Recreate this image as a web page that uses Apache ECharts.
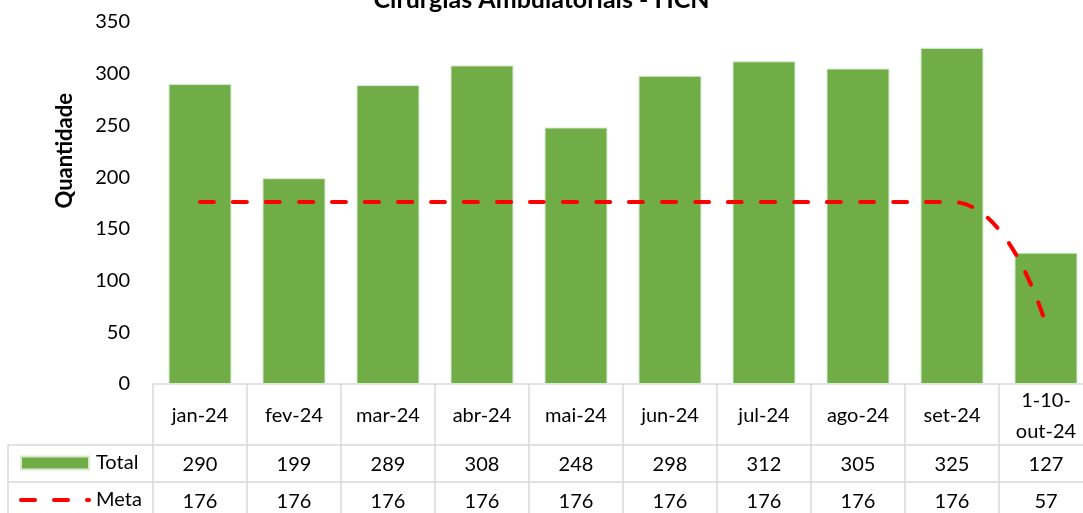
<!DOCTYPE html>
<html><head><meta charset="utf-8">
<script src="https://cdn.jsdelivr.net/npm/echarts@6/dist/echarts.min.js"></script>
<style>html,body{margin:0;padding:0;background:#fff}#c{width:1083px;height:513px}</style>
</head><body><div id="c"></div>
<script>
const chartTitle = 'Cirurgias Ambulatoriais - HCN';
const yAxisTitle = 'Quantidade';
const categories = ['jan-24','fev-24','mar-24','abr-24','mai-24','jun-24','jul-24','ago-24','set-24','1-10-\nout-24'];
const totalValues = [290,199,289,308,248,298,312,305,325,127];
const metaValues = [176,176,176,176,176,176,176,176,176,57];
const yMin = 0, yMax = 350, yStep = 50;

const FONT = 'Lato';
const GRID = {left:153, top:22, width:940, height:362};
const GRID_BOTTOM = GRID.top + GRID.height;
const ROW1 = GRID_BOTTOM + 61, ROW2 = ROW1 + 37;
const LINE_C = '#d9d9d9';
const META_DASH = [14,19];

const chart = echarts.init(document.getElementById('c'), null, {renderer:'canvas'});
chart.setOption({
  backgroundColor:'#fff',
  animation:false,
  textStyle:{fontFamily:FONT, color:'#000'},
  title:{text:chartTitle, left:'center', top:-13, padding:0,
    textStyle:{fontFamily:FONT, fontWeight:'bold', fontSize:25, color:'#000'}},
  grid:Object.assign({outerBoundsMode:'none', containLabel:false}, GRID),
  legend:{orient:'vertical', left:19, top:ROW1+8, padding:0, itemGap:17,
    itemWidth:68, itemHeight:13,
    textStyle:{fontFamily:FONT, fontSize:20, color:'#000', lineHeight:20, padding:[0,0,0,2]},
    data:[{name:'Total', icon:'rect'},
      {name:'Meta', itemStyle:{opacity:0, color:'rgba(0,0,0,0)', borderWidth:0},
        lineStyle:{color:'#ff0000', width:4, type:META_DASH, cap:'round'}}]},
  xAxis:{type:'category', data:categories, boundaryGap:true,
    axisLine:{show:true, lineStyle:{color:LINE_C, width:1.5}},
    axisTick:{show:true, alignWithLabel:false, length:135, lineStyle:{color:LINE_C, width:1.5}},
    axisLabel:{interval:0, margin:1, color:'#000',
      formatter:(v, i) => {
        const parts = v.split('\n');
        const head = parts.length > 1 ? ('{h2a|' + parts[0] + '}\n{h2b|' + parts[1] + '}') : '{h|' + v + '}';
        return head + '\n{v|' + totalValues[i] + '}\n{v|' + metaValues[i] + '}';
      },
      rich:{
        h:{fontFamily:FONT, fontSize:20, lineHeight:61, color:'#000', align:'center'},
        h2a:{fontFamily:FONT, fontSize:20, lineHeight:32, color:'#000', align:'center'},
        h2b:{fontFamily:FONT, fontSize:20, lineHeight:29, color:'#000', align:'center'},
        v:{fontFamily:FONT, fontSize:20, lineHeight:37, color:'#000', align:'center'}
      }}},
  yAxis:{type:'value', min:yMin, max:yMax, interval:yStep,
    axisLine:{show:false}, axisTick:{show:false}, splitLine:{show:false},
    axisLabel:{fontFamily:FONT, fontSize:20, color:'#000', margin:23}},
  series:[
    {name:'Total', type:'bar', data:totalValues, barCategoryGap:'33%',
      itemStyle:{color:'#70ad47', borderColor:'#d9ead0', borderWidth:1}},
    {name:'Meta', type:'line', data:metaValues, smooth:0.5, symbol:'none', showSymbol:false,
      lineStyle:{color:'#ff0000', width:4, type:META_DASH, cap:'round'},
      itemStyle:{color:'#ff0000'}}
  ],
  graphic:[
    {type:'text', left:54, top:93, rotation:Math.PI/2, z:10,
      style:{text:yAxisTitle, fontFamily:FONT, fontWeight:'bold', fontSize:22, fill:'#000'}},
    {type:'line', shape:{x1:8, y1:ROW1, x2:1083, y2:ROW1}, style:{stroke:LINE_C, lineWidth:1.5}},
    {type:'line', shape:{x1:8, y1:ROW2, x2:1083, y2:ROW2}, style:{stroke:LINE_C, lineWidth:1.5}},
    {type:'line', shape:{x1:8, y1:ROW1, x2:8, y2:513}, style:{stroke:LINE_C, lineWidth:1.5}}
  ]
});
</script></body></html>
